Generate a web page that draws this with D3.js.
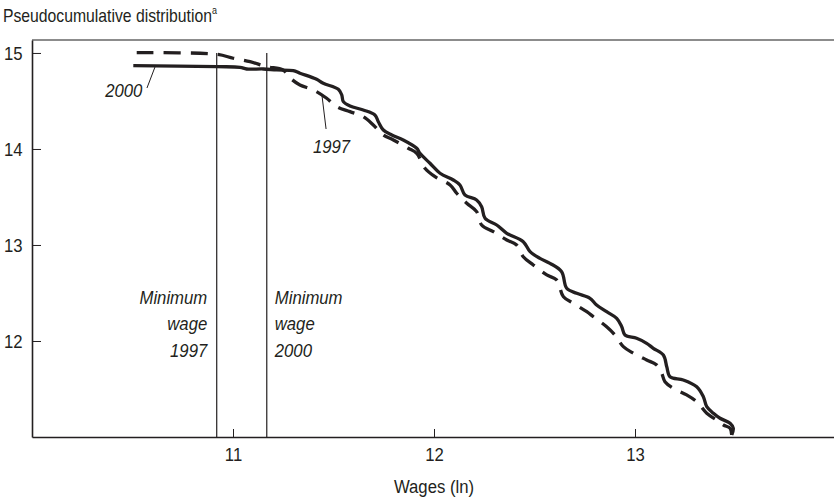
<!DOCTYPE html>
<html>
<head>
<meta charset="utf-8">
<script src="https://cdn.jsdelivr.net/npm/d3@7"></script>
<style>
  html, body { margin: 0; padding: 0; background: #fff; }
  svg { display: block; }
  text { font-family: "Liberation Sans", Arial, sans-serif; fill: #231f20; }
</style>
</head>
<body>
<svg id="chart" width="834" height="501"></svg>
<script>
// ---- Data ----
const wages2000 = [10.504, 10.919, 11.035, 11.068, 11.151, 11.217, 11.300, 11.333, 11.416, 11.449, 11.524, 11.541, 11.549, 11.582, 11.648, 11.706, 11.723, 11.748, 11.790, 11.847, 11.914, 11.930, 11.980, 12.030, 12.096, 12.129, 12.154, 12.212, 12.237, 12.254, 12.312, 12.362, 12.444, 12.478, 12.527, 12.577, 12.635, 12.660, 12.710, 12.776, 12.809, 12.859, 12.909, 12.934, 12.950, 13.008, 13.058, 13.091, 13.141, 13.158, 13.174, 13.240, 13.307, 13.340, 13.357, 13.390, 13.423, 13.473, 13.489, 13.481];
const dist2000  = [14.868, 14.857, 14.851, 14.833, 14.833, 14.823, 14.816, 14.789, 14.726, 14.684, 14.622, 14.563, 14.493, 14.448, 14.406, 14.354, 14.284, 14.198, 14.146, 14.094, 14.007, 13.955, 13.851, 13.747, 13.677, 13.625, 13.521, 13.469, 13.399, 13.278, 13.208, 13.122, 13.034, 12.930, 12.861, 12.809, 12.722, 12.549, 12.497, 12.445, 12.375, 12.305, 12.236, 12.149, 12.063, 12.028, 11.976, 11.924, 11.854, 11.732, 11.628, 11.594, 11.524, 11.420, 11.316, 11.247, 11.195, 11.143, 11.091, 11.021];

const wages1997 = [10.521, 10.919, 11.001, 11.085, 11.168, 11.249, 11.284, 11.333, 11.400, 11.466, 11.516, 11.582, 11.648, 11.698, 11.748, 11.798, 11.872, 11.914, 11.955, 12.005, 12.080, 12.113, 12.163, 12.212, 12.237, 12.295, 12.362, 12.411, 12.444, 12.494, 12.561, 12.610, 12.644, 12.693, 12.760, 12.793, 12.859, 12.900, 12.942, 12.992, 13.058, 13.108, 13.133, 13.149, 13.191, 13.257, 13.307, 13.357, 13.406, 13.440, 13.473, 13.481];
const dist1997  = [15.003, 14.986, 14.945, 14.909, 14.857, 14.823, 14.740, 14.667, 14.615, 14.528, 14.441, 14.389, 14.336, 14.250, 14.146, 14.094, 14.007, 13.955, 13.799, 13.711, 13.625, 13.539, 13.434, 13.347, 13.208, 13.139, 13.052, 13.000, 12.878, 12.792, 12.688, 12.636, 12.461, 12.393, 12.305, 12.253, 12.149, 12.063, 11.941, 11.872, 11.802, 11.750, 11.664, 11.576, 11.507, 11.438, 11.368, 11.247, 11.177, 11.125, 11.091, 11.021];

const xTicks = [11, 12, 13];
const yTicks = [12, 13, 14, 15];
const minWage1997 = 10.919;
const minWage2000 = 11.168;

const titleText = "Pseudocumulative distribution";
const titleSup = "a";
const xLabel = "Wages (ln)";
const minLabel1997 = ["Minimum", "wage", "1997"];
const minLabel2000 = ["Minimum", "wage", "2000"];

// ---- Layout ----
const SX = 0.88; // horizontal condensing to mimic a narrow typeface
const svg = d3.select("#chart");
const x = d3.scaleLinear().domain([10, 14]).range([32, 836]);
const y = d3.scaleLinear().domain([11, 15.135]).range([437, 40]);

function addText(px, py, str, size, anchor, italic, sx) {
  const g = svg.append("g").attr("transform", `translate(${px},${py}) scale(${sx || SX},1)`);
  const t = g.append("text").attr("x", 0).attr("y", 0)
    .attr("font-size", size).attr("text-anchor", anchor || "start")
    .attr("font-style", italic ? "italic" : "normal").text(str);
  return t;
}

// Title
const title = addText(3, 22, titleText, 17.5, "start", false, 0.9);
title.append("tspan").attr("font-size", 10).attr("dy", -8).text(titleSup);

// Top frame line
svg.append("line")
  .attr("x1", x(10)).attr("x2", 834)
  .attr("y1", y(15.135)).attr("y2", y(15.135))
  .attr("stroke", "#666").attr("stroke-width", 1.4);

// Axes
const xAxis = d3.axisBottom(x).tickValues(xTicks).tickFormat(d3.format("d"))
  .tickSizeInner(-8).tickSizeOuter(0).tickPadding(11);
const gx = svg.append("g").attr("transform", `translate(0,${y(11)})`).call(xAxis);
gx.attr("font-family", null).attr("font-size", null);
gx.select(".domain").attr("stroke", "#231f20").attr("stroke-width", 1.6);
gx.selectAll(".tick line").attr("stroke", "#231f20").attr("stroke-width", 1);
gx.selectAll(".tick text").attr("font-size", 19).attr("fill", "#231f20")
  .attr("transform", `scale(${SX},1)`);

const yAxis = d3.axisLeft(y).tickValues(yTicks).tickFormat(d3.format("d"))
  .tickSizeInner(-9).tickSizeOuter(0).tickPadding(9.5);
const gy = svg.append("g").attr("transform", `translate(${x(10)},0)`).call(yAxis);
gy.attr("font-family", null).attr("font-size", null);
gy.select(".domain").attr("stroke", "#231f20").attr("stroke-width", 1.6);
gy.selectAll(".tick line").attr("stroke", "#231f20").attr("stroke-width", 1);
gy.selectAll(".tick text").attr("font-size", 19).attr("fill", "#231f20").attr("dy", "0.36em")
  .attr("x", -9.5 / SX).attr("transform", `scale(${SX},1)`);

// X axis label
addText(x(12), 493, xLabel, 19, "middle", false);

// Minimum wage lines
[minWage1997, minWage2000].forEach(w => {
  svg.append("line")
    .attr("x1", x(w)).attr("x2", x(w))
    .attr("y1", y(15)).attr("y2", y(11))
    .attr("stroke", "#231f20").attr("stroke-width", 1.2);
});

const labelLevels = [12.385, 12.115, 11.835];
minLabel1997.forEach((t, i) => addText(x(minWage1997) - 9.5, y(labelLevels[i]), t, 19, "end", true));
minLabel2000.forEach((t, i) => addText(x(minWage2000) + 8, y(labelLevels[i]), t, 19, "start", true));

// Curves
const line = d3.line().x(d => x(d[0])).y(d => y(d[1])).curve(d3.curveCatmullRom.alpha(0.5));
svg.append("path")
  .datum(d3.zip(wages1997, dist1997))
  .attr("d", line).attr("fill", "none")
  .attr("stroke", "#231f20").attr("stroke-width", 3.3)
  .attr("stroke-dasharray", "17,10");
svg.append("path")
  .datum(d3.zip(wages2000, dist2000))
  .attr("d", line).attr("fill", "none")
  .attr("stroke", "#231f20").attr("stroke-width", 3.3);

// Series labels with leader lines
svg.append("line")
  .attr("x1", x(10.572)).attr("y1", y(14.635))
  .attr("x2", x(10.612)).attr("y2", y(14.854))
  .attr("stroke", "#231f20").attr("stroke-width", 1);
addText(x(10.549), y(14.542), "2000", 19, "end", true);

svg.append("line")
  .attr("x1", x(11.463)).attr("y1", y(14.208))
  .attr("x2", x(11.443)).attr("y2", y(14.552))
  .attr("stroke", "#231f20").attr("stroke-width", 1);
addText(x(11.398), y(13.958), "1997", 19, "start", true);
</script>
</body>
</html>
